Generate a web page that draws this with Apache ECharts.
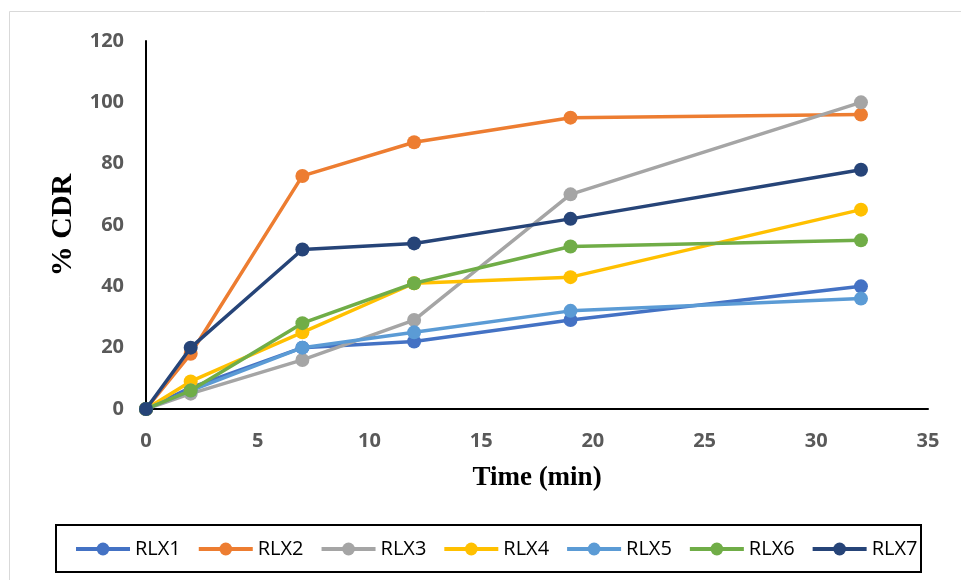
<!DOCTYPE html>
<html>
<head>
<meta charset="utf-8">
<script src="https://cdn.jsdelivr.net/npm/echarts@6/dist/echarts.min.js"></script>
<style>html,body{margin:0;padding:0;background:#fff;}#c{width:961px;height:580px;}</style>
</head>
<body>
<div id="c"></div>
<script>
const times = [0, 2, 7, 12, 19, 32];
const seriesNames = ['RLX1', 'RLX2', 'RLX3', 'RLX4', 'RLX5', 'RLX6', 'RLX7'];
const rlx1 = [0, 7, 20, 22, 29, 40];
const rlx2 = [0, 18, 76, 87, 95, 96];
const rlx3 = [0, 5, 16, 29, 70, 100];
const rlx4 = [0, 9, 25, 41, 43, 65];
const rlx5 = [0, 6, 20, 25, 32, 36];
const rlx6 = [0, 6, 28, 41, 53, 55];
const rlx7 = [0, 20, 52, 54, 62, 78];
const colors = ['#4472C4', '#ED7D31', '#A5A5A5', '#FFC000', '#5B9BD5', '#70AD47', '#264478'];
const allValues = [rlx1, rlx2, rlx3, rlx4, rlx5, rlx6, rlx7];

const chart = echarts.init(document.getElementById('c'), null, {renderer: 'canvas'});
const series = seriesNames.map((n, i) => ({
  name: n,
  type: 'line',
  data: times.map((t, j) => [t, allValues[i][j]]),
  symbol: 'circle',
  symbolSize: 14,
  lineStyle: {width: 3.5, color: colors[i]},
  itemStyle: {color: colors[i]},
  z: 2 + i
}));
chart.setOption({
  animation: false,
  color: colors,
  grid: {left: 146, right: 33, top: 41, bottom: 171},
  graphic: [
    {type: 'rect', shape: {x: 9.5, y: 11.5, width: 1000, height: 1000}, style: {fill: 'none', stroke: '#d9d9d9', lineWidth: 1}, silent: true},
    {type: 'rect', shape: {x: 56, y: 525, width: 865, height: 47}, style: {fill: 'none', stroke: '#000', lineWidth: 2}, silent: true}
  ],
  legend: {
    data: seriesNames,
    left: 74, top: 539,
    itemWidth: 54, itemHeight: 16, itemGap: 16,
    lineStyle: {width: 4},
    textStyle: {fontFamily: "'Open Sans', sans-serif", fontSize: 20, color: '#000'},
    padding: 0
  },
  xAxis: {
    type: 'value', min: 0, max: 35, interval: 5,
    name: 'Time (min)', nameLocation: 'middle', nameGap: 56,
    nameTextStyle: {fontFamily: "'Liberation Serif', 'Times New Roman', serif", fontWeight: 'bold', fontSize: 27, color: '#000'},
    axisLine: {lineStyle: {color: '#000', width: 2}},
    axisTick: {show: false},
    splitLine: {show: false},
    axisLabel: {margin: 22, fontFamily: "'Open Sans', sans-serif", fontWeight: 'bold', fontSize: 20, color: '#595959'}
  },
  yAxis: {
    type: 'value', min: 0, max: 120, interval: 20,
    name: '% CDR', nameLocation: 'middle', nameGap: 68,
    nameTextStyle: {fontFamily: "'Liberation Serif', 'Times New Roman', serif", fontWeight: 'bold', fontSize: 30, color: '#000'},
    axisLine: {show: true, lineStyle: {color: '#000', width: 2}},
    axisTick: {show: false},
    splitLine: {show: false},
    axisLabel: {margin: 22, fontFamily: "'Open Sans', sans-serif", fontWeight: 'bold', fontSize: 20, color: '#595959'}
  },
  series: series
});
</script>
</body>
</html>
